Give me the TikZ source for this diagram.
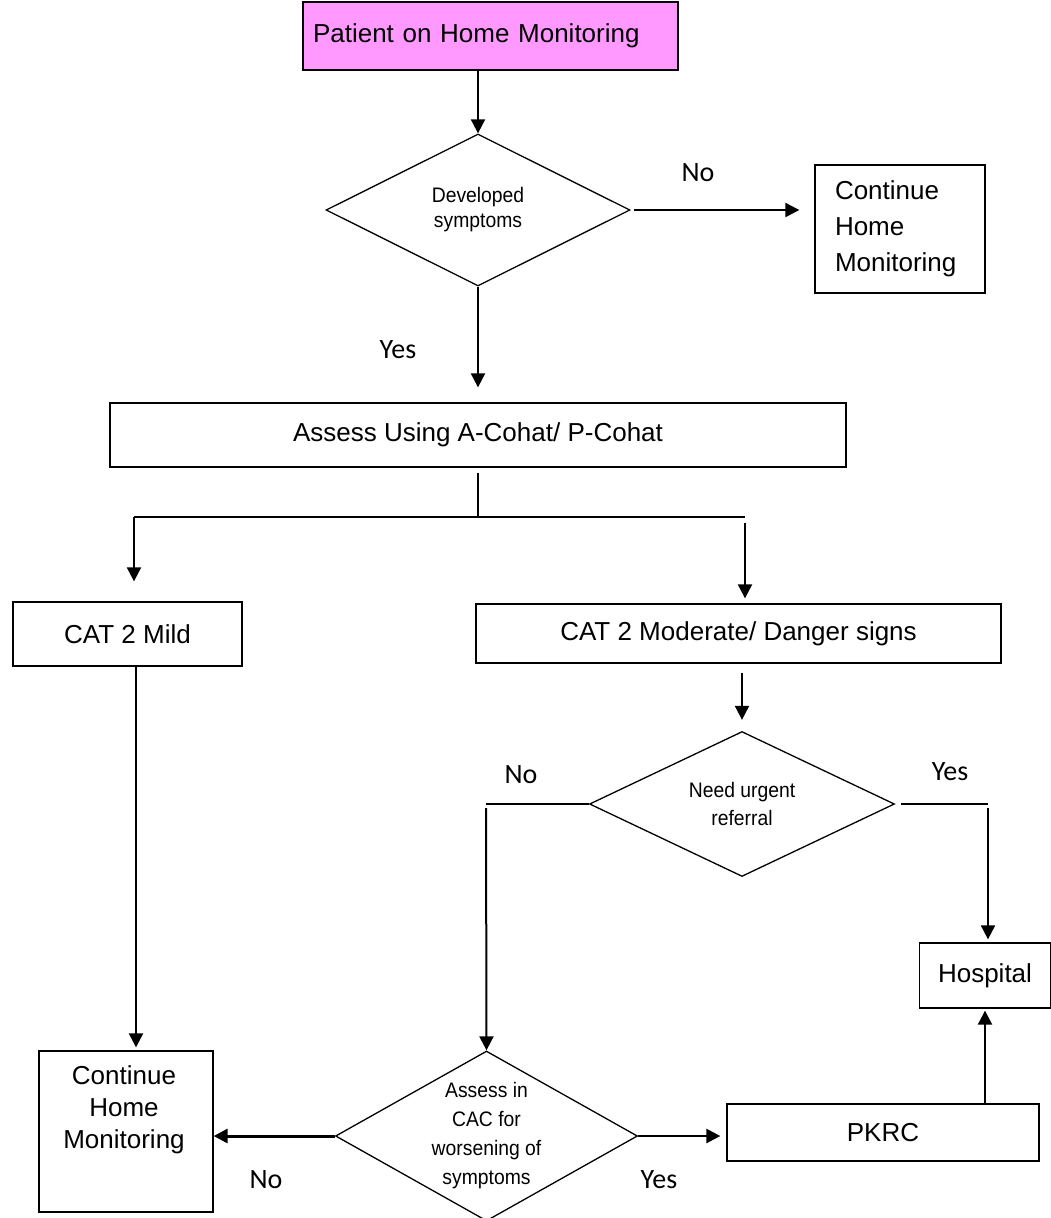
\documentclass[tikz,border=0pt]{standalone}
\usepackage{fontspec}
\setmainfont{Liberation Sans}
\newfontfamily\labelfont{Carlito}
\newfontfamily\narrowfont[FakeStretch=0.92]{Liberation Sans}
\usetikzlibrary{shapes.geometric,arrows.meta}
\definecolor{startpink}{RGB}{255,153,255}
\begin{document}
\begin{tikzpicture}[x=1pt,y=-1pt,
  box/.style={draw, line width=1.3pt, rectangle, inner sep=0pt, font=\fontsize{26}{32}\selectfont},
  decision/.style={draw, line width=1.3pt, diamond, inner sep=-14pt, align=center},
  arr/.style={line width=2pt, -{Triangle[length=14pt,width=14pt]}},
  thinline/.style={line width=1.1pt},
  branch/.style={font=\labelfont\fontsize{28}{28}\selectfont}
]
\useasboundingbox (0,0) rectangle (1051,1218);

% boxes and decisions
\node[box, fill=startpink, minimum width=375pt, minimum height=68pt, text width=355pt, align=left] (start) at (490.5,36) {Patient on Home Monitoring};
\node[decision, minimum width=304pt, minimum height=152pt, font=\narrowfont\fontsize{21}{25}\selectfont] (d1) at (478,210) {Developed\\symptoms};
\node[box, minimum width=170pt, minimum height=128pt, text width=130pt, align=left, font=\fontsize{26}{36}\selectfont] (home1) at (900,229) {Continue\\Home\\Monitoring};
\node[box, minimum width=736pt, minimum height=64pt] (assess) at (478,435) {Assess Using A-Cohat/ P-Cohat};
\node[box, minimum width=229pt, minimum height=64pt] (mild) at (127.5,634) {CAT 2 Mild};
\node[box, minimum width=525pt, minimum height=59pt] (moderate) at (738.5,633.5) {CAT 2 Moderate/ Danger signs};
\node[decision, minimum width=305pt, minimum height=145pt, font=\narrowfont\fontsize{21}{28}\selectfont] (d2) at (742,804) {Need urgent\\referral};
\node[box, minimum width=131pt, minimum height=65pt] (hospital) at (985,975.5) {Hospital};
\node[box, minimum width=312pt, minimum height=57pt] (pkrc) at (883,1132.5) {PKRC};
\node[decision, minimum width=302pt, minimum height=170pt, font=\narrowfont\fontsize{21}{29}\selectfont] (d3) at (486.5,1136) {Assess in\\CAC for\\worsening of\\symptoms};
\node[box, minimum width=174pt, minimum height=161pt] (home2) at (126,1131.5) {};
\node[font=\fontsize{26}{32}\selectfont, align=center] (home2text) at (124,1110) {Continue\\Home\\Monitoring};

% branch labels
\node[branch] (no1) at (698,173) {No};
\node[branch] (yes1) at (398,350) {Yes};
\node[branch] (no2) at (521,775) {No};
\node[branch] (yes2) at (950,772) {Yes};
\node[branch] (no3) at (266,1180) {No};
\node[branch] (yes3) at (659,1180) {Yes};

% junction points
\coordinate (split) at (478,517);
\coordinate (splitL) at (134,517);
\coordinate (splitR) at (745,517);
\coordinate (mildout) at (136,666);
\coordinate (noturn) at (486,804);
\coordinate (yesturn) at (988,804);

% connectors
\draw[arr] (start.south -| d1.north) -- (d1.north);
\draw[arr, shorten <=3pt, shorten >=15pt] (d1.east) -- (d1.east -| home1.west);
\draw[arr, shorten >=15pt] (d1.south) -- (assess.north);
\draw[thinline, shorten <=5pt] (assess.south) -- (split);
\draw[thinline] (splitL) -- (splitR);
\draw[arr, shorten >=20pt] (splitL) -- (splitL |- mild.north);
\draw[arr, shorten <=6pt, shorten >=5pt] (splitR) -- (splitR |- moderate.north);
\draw[arr, shorten >=3pt] (mildout) -- (mildout |- home2.north);
\draw[arr, shorten <=9pt, shorten >=11pt] (moderate.south -| d2.north) -- (d2.north);
\draw[thinline] (d2.west) -- (noturn);
\draw[arr, shorten <=4pt] (noturn) -- (d3.north);
\draw[thinline, shorten <=6pt] (d2.east) -- (yesturn);
\draw[arr, shorten <=4pt, shorten >=3pt] (yesturn) -- (yesturn |- hospital.north);
\draw[arr, shorten >=2pt] (hospital.south |- pkrc.north) -- (hospital.south);
\draw[arr, line width=3pt] (d3.west) -- (d3.west -| home2.east);
\draw[arr, line width=2.5pt, shorten >=6pt] (d3.east) -- (d3.east -| pkrc.west);
\end{tikzpicture}
\end{document}
